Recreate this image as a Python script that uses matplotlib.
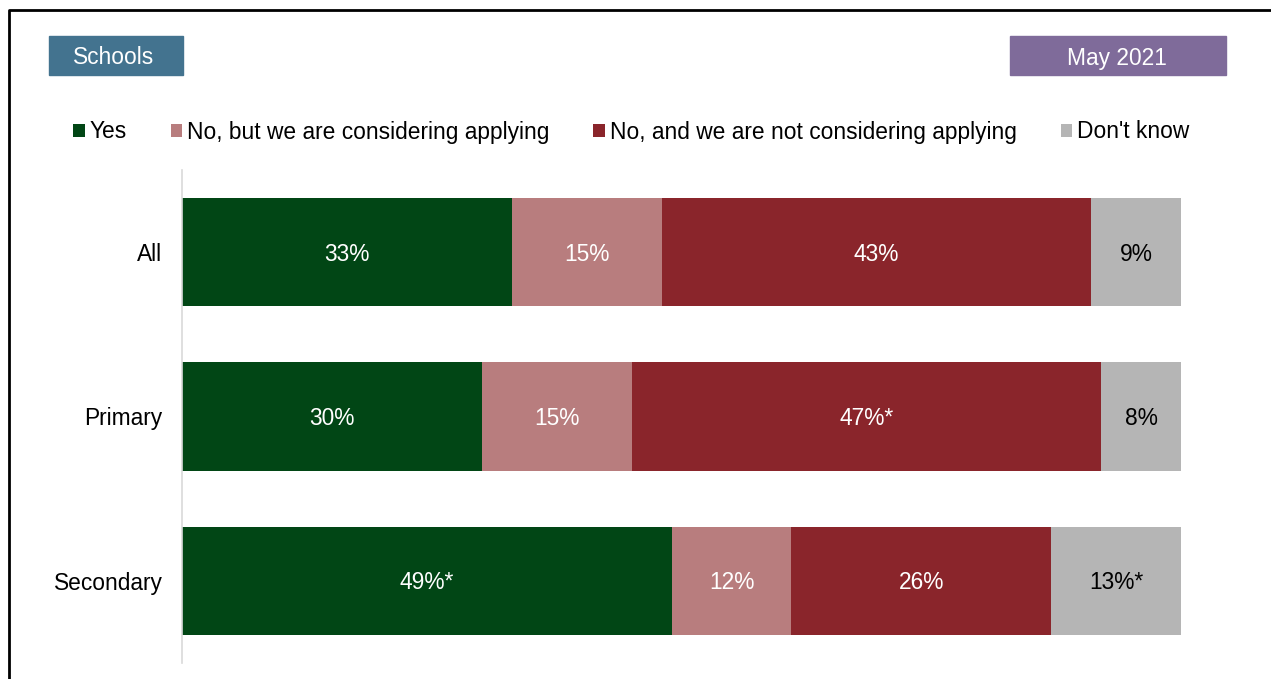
import matplotlib.pyplot as plt
from matplotlib.patches import Rectangle
from matplotlib.lines import Line2D

plt.rcParams['font.family'] = ['Liberation Sans', 'DejaVu Sans']

# -------------------------------
# Data
# -------------------------------
groups = ["All", "Primary", "Secondary"]
series = ["Yes", "No, but we are considering applying",
          "No, and we are not considering applying", "Don't know"]
yes = [33, 30, 49]
considering = [15, 15, 12]
not_considering = [43, 47, 26]
dont_know = [9, 8, 13]
labels = [
    ["33%", "30%", "49%*"],
    ["15%", "15%", "12%"],
    ["43%", "47%*", "26%"],
    ["9%", "8%", "13%*"],
]
colors = ["#014615", "#b87d7e", "#8a252b", "#b5b5b5"]
text_colors = ["white", "white", "white", "black"]
FS = 16.4

# -------------------------------
# Figure
# -------------------------------
W, H = 1271, 679
fig = plt.figure(figsize=(W / 100, H / 100), dpi=100)
ax = fig.add_axes([182 / W, 1 - 663 / H, (1181 - 182) / W, (663 - 170) / H])

values = [yes, considering, not_considering, dont_know]
left = [0] * len(groups)
ypos = list(range(len(groups)))
for vals, lab, col, tcol, name in zip(values, labels, colors, text_colors, series):
    bars = ax.barh(ypos, vals, left=left, height=0.66, color=col, label=name)
    for b, t in zip(bars, lab):
        ax.text(b.get_x() + b.get_width() / 2, b.get_y() + b.get_height() / 2 + 0.012, t,
                ha="center", va="center", color=tcol, fontsize=FS)
    left = [l + v for l, v in zip(left, vals)]

ax.set_xlim(0, 100)
ax.set_ylim(2.5, -0.5)
ax.set_yticks(ypos)
ax.set_yticklabels(groups, fontsize=FS)
ax.set_xticks([])
ax.tick_params(axis="y", length=0, pad=14)
for s in ["top", "right", "bottom"]:
    ax.spines[s].set_visible(False)
ax.spines["left"].set_color("#d9d9d9")
ax.spines["left"].set_linewidth(1.2)

# legend
fig.legend(loc="center left", bbox_to_anchor=(73 / W, 1 - 132 / H), ncol=4,
           frameon=False, fontsize=FS, handlelength=0.52, handleheight=0.52,
           handletextpad=0.2, columnspacing=1.93, borderpad=0, borderaxespad=0)

# header boxes
fig.patches.append(Rectangle((49 / W, 1 - 75 / H), 134 / W, 39 / H,
                             transform=fig.transFigure, color="#43738f"))
fig.text(114 / W, 1 - 58 / H, "Schools", ha="center", va="center",
         color="white", fontsize=FS)
fig.patches.append(Rectangle((1010 / W, 1 - 75 / H), 216 / W, 39 / H,
                             transform=fig.transFigure, color="#7f6b9a"))
fig.text(1117 / W, 1 - 58 / H, "May 2021", ha="center", va="center",
         color="white", fontsize=FS)

# outer frame (left and top edges)
fig.lines.append(Line2D([9 / W, 9 / W, 1.0], [0, 1 - 10 / H, 1 - 10 / H],
                        transform=fig.transFigure, color="black", linewidth=2))

fig.savefig("out.png", dpi=100)
